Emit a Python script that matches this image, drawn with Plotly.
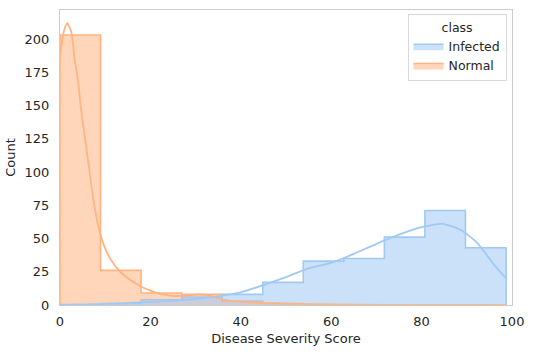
import plotly.graph_objects as go

# ---- data ----
bin_edges = [0, 8.97, 17.94, 26.91, 35.88, 44.85, 53.82, 62.79, 71.76, 80.73, 89.7, 98.7]
infected_counts = [0, 1, 4, 6, 8, 17, 33, 35, 51, 71, 43]
normal_counts = [203, 26, 9, 8, 3, 1, 0, 0, 0, 0, 0]

infected_kde_x = [0, 5, 10, 15, 20, 25, 30, 35, 40, 45, 50, 55, 60, 65, 70, 75, 80, 84.6, 88.7, 92.4, 96.1, 98.7]
infected_kde_y = [0.2, 0.5, 0.9, 1.5, 2.3, 3.2, 4.5, 6.5, 9.5, 15, 21, 27.5, 31.7, 38.4, 46, 52.9, 58.5, 61, 56.4, 46.4, 30, 20]

normal_kde_x = [0, 0.8, 1.6, 2.5, 3.25, 4.0, 4.7, 6.2, 7.4, 8.5, 9.6, 11.1, 13.3, 15.5, 17.7, 20, 22.2,
                24.4, 26.6, 28.8, 30.5, 32, 34, 36.2, 41.4, 48.8, 55.4, 65, 80, 98.7]
normal_kde_y = [187, 205, 212, 205, 185, 168, 146, 109, 79, 59, 46, 35, 25, 19, 14.3, 10.8, 8.3,
                7, 6.8, 7.3, 8, 7.6, 6.3, 3.8, 2, 1.2, 0.6, 0.2, 0.05, 0]

classes = ["Infected", "Normal"]
x_ticks = [0, 20, 40, 60, 80, 100]
y_ticks = [0, 25, 50, 75, 100, 125, 150, 175, 200]

colors = {"Infected": "#a1c9f4", "Normal": "#ffb482"}
fills = {"Infected": "rgba(161,201,244,0.55)", "Normal": "rgba(255,180,130,0.55)"}


def step_xy(edges, counts):
    xs = [edges[0]] + list(edges[:-1]) + [edges[-1]]
    ys = [0] + list(counts) + [0]
    return xs, ys


fig = go.Figure()
hist = {"Infected": infected_counts, "Normal": normal_counts}
kde = {"Infected": (infected_kde_x, infected_kde_y), "Normal": (normal_kde_x, normal_kde_y)}

for cls in ["Normal", "Infected"]:
    xs, ys = step_xy(bin_edges, hist[cls])
    fig.add_trace(go.Scatter(
        x=xs, y=ys, mode="lines", line=dict(shape="hv", color=colors[cls], width=1.6),
        fill="tozeroy", fillcolor=fills[cls], name=cls, legendrank=classes.index(cls) + 1,
        hoverinfo="skip"))

for cls in ["Normal", "Infected"]:
    kx, ky = kde[cls]
    fig.add_trace(go.Scatter(
        x=kx, y=ky, mode="lines", line=dict(shape="spline", smoothing=0.6, color=colors[cls], width=1.8),
        showlegend=False, hoverinfo="skip"))

font_color = "#262626"
fs = 13
fig.update_layout(
    width=533, height=354,
    margin=dict(l=60, r=21, t=10, b=49),
    paper_bgcolor="white", plot_bgcolor="white",
    font=dict(family="DejaVu Sans", size=fs, color=font_color),
    legend=dict(
        title=dict(text="class", side="top center", font=dict(size=12.5, color=font_color)),
        x=0.988, y=0.985, xanchor="right", yanchor="top",
        bgcolor="rgba(255,255,255,0.8)", bordercolor="#d9d9d9", borderwidth=1,
        font=dict(size=12.5, color=font_color), traceorder="normal", tracegroupgap=0,
    ),
    showlegend=True,
)
fig.update_xaxes(
    range=[0, 100], tickvals=x_ticks, ticktext=[str(v) for v in x_ticks], automargin=False,
    showgrid=False, zeroline=False, showline=True, mirror=True, linecolor="#cccccc", linewidth=1,
    ticks="", ticklen=0, ticklabelstandoff=4,
    title=dict(text="Disease Severity Score", font=dict(size=fs, color=font_color), standoff=6),
    tickfont=dict(size=fs, color=font_color),
)
fig.update_yaxes(
    range=[0, 221.8], tickvals=y_ticks, ticktext=[str(v) for v in y_ticks], automargin=True,
    showgrid=False, zeroline=False, showline=True, mirror=True, linecolor="#cccccc", linewidth=1,
    ticks="", ticklen=0, ticklabelstandoff=7,
    title=dict(text="Count", font=dict(size=fs, color=font_color), standoff=6),
    tickfont=dict(size=fs, color=font_color),
)

fig.write_html("out.html")
